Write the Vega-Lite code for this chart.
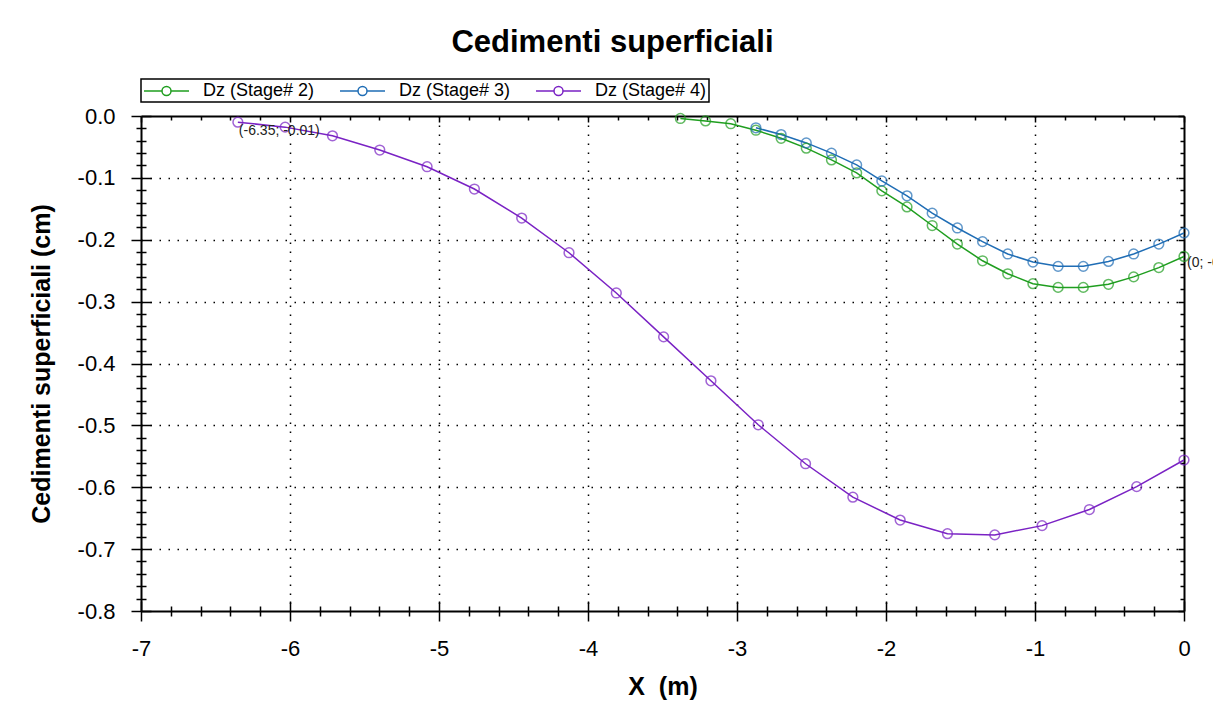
{
  "$schema": "https://vega.github.io/schema/vega-lite/v6.json",
  "width": 1043,
  "height": 495,
  "autosize": {"type": "none"},
  "padding": {"left": 141, "top": 116, "right": 29, "bottom": 107},
  "background": "white",
  "title": {"text": "Cedimenti superficiali", "font": "Liberation Sans", "fontSize": 31, "fontWeight": "bold", "color": "#000000", "anchor": "middle", "frame": "group", "dx": -50, "offset": -5, "baseline": "alphabetic"},
  "config": {
    "view": {"stroke": null},
    "legend": {"strokeWidth": 1.5},
    "axis": {"domainColor": "#000000", "domainWidth": 2, "tickColor": "#000000", "tickWidth": 1.5, "labelFont": "Liberation Sans", "labelFontSize": 22, "labelColor": "#000000", "titleFont": "Liberation Sans", "titleFontSize": 25, "titleFontWeight": "bold", "titleColor": "#000000", "gridColor": "#000000", "gridDash": [1.5, 7.5], "gridWidth": 1.5, "labelOverlap": false, "labelFlush": false}
  },
  "datasets": {
    "stages": [
      {"series": "Dz (Stage# 2)", "x": -3.38, "y": -0.004},
      {"series": "Dz (Stage# 2)", "x": -3.211, "y": -0.008},
      {"series": "Dz (Stage# 2)", "x": -3.042, "y": -0.0125},
      {"series": "Dz (Stage# 2)", "x": -2.873, "y": -0.023},
      {"series": "Dz (Stage# 2)", "x": -2.704, "y": -0.036},
      {"series": "Dz (Stage# 2)", "x": -2.535, "y": -0.052},
      {"series": "Dz (Stage# 2)", "x": -2.366, "y": -0.071},
      {"series": "Dz (Stage# 2)", "x": -2.197, "y": -0.092},
      {"series": "Dz (Stage# 2)", "x": -2.028, "y": -0.121},
      {"series": "Dz (Stage# 2)", "x": -1.859, "y": -0.147},
      {"series": "Dz (Stage# 2)", "x": -1.69, "y": -0.177},
      {"series": "Dz (Stage# 2)", "x": -1.521, "y": -0.207},
      {"series": "Dz (Stage# 2)", "x": -1.352, "y": -0.234},
      {"series": "Dz (Stage# 2)", "x": -1.183, "y": -0.255},
      {"series": "Dz (Stage# 2)", "x": -1.014, "y": -0.271},
      {"series": "Dz (Stage# 2)", "x": -0.845, "y": -0.277},
      {"series": "Dz (Stage# 2)", "x": -0.676, "y": -0.277},
      {"series": "Dz (Stage# 2)", "x": -0.507, "y": -0.272},
      {"series": "Dz (Stage# 2)", "x": -0.338, "y": -0.26},
      {"series": "Dz (Stage# 2)", "x": -0.169, "y": -0.245},
      {"series": "Dz (Stage# 2)", "x": 0, "y": -0.227},
      {"series": "Dz (Stage# 3)", "x": -2.873, "y": -0.019},
      {"series": "Dz (Stage# 3)", "x": -2.704, "y": -0.03},
      {"series": "Dz (Stage# 3)", "x": -2.535, "y": -0.0435},
      {"series": "Dz (Stage# 3)", "x": -2.366, "y": -0.06},
      {"series": "Dz (Stage# 3)", "x": -2.197, "y": -0.079},
      {"series": "Dz (Stage# 3)", "x": -2.028, "y": -0.105},
      {"series": "Dz (Stage# 3)", "x": -1.859, "y": -0.129},
      {"series": "Dz (Stage# 3)", "x": -1.69, "y": -0.157},
      {"series": "Dz (Stage# 3)", "x": -1.521, "y": -0.181},
      {"series": "Dz (Stage# 3)", "x": -1.352, "y": -0.203},
      {"series": "Dz (Stage# 3)", "x": -1.183, "y": -0.223},
      {"series": "Dz (Stage# 3)", "x": -1.014, "y": -0.236},
      {"series": "Dz (Stage# 3)", "x": -0.845, "y": -0.243},
      {"series": "Dz (Stage# 3)", "x": -0.676, "y": -0.243},
      {"series": "Dz (Stage# 3)", "x": -0.507, "y": -0.235},
      {"series": "Dz (Stage# 3)", "x": -0.338, "y": -0.223},
      {"series": "Dz (Stage# 3)", "x": -0.169, "y": -0.207},
      {"series": "Dz (Stage# 3)", "x": 0, "y": -0.189},
      {"series": "Dz (Stage# 4)", "x": -6.35, "y": -0.01},
      {"series": "Dz (Stage# 4)", "x": -6.0325, "y": -0.018},
      {"series": "Dz (Stage# 4)", "x": -5.715, "y": -0.032},
      {"series": "Dz (Stage# 4)", "x": -5.3975, "y": -0.055},
      {"series": "Dz (Stage# 4)", "x": -5.08, "y": -0.082},
      {"series": "Dz (Stage# 4)", "x": -4.7625, "y": -0.118},
      {"series": "Dz (Stage# 4)", "x": -4.445, "y": -0.165},
      {"series": "Dz (Stage# 4)", "x": -4.1275, "y": -0.221},
      {"series": "Dz (Stage# 4)", "x": -3.81, "y": -0.286},
      {"series": "Dz (Stage# 4)", "x": -3.4925, "y": -0.357},
      {"series": "Dz (Stage# 4)", "x": -3.175, "y": -0.428},
      {"series": "Dz (Stage# 4)", "x": -2.8575, "y": -0.499},
      {"series": "Dz (Stage# 4)", "x": -2.54, "y": -0.562},
      {"series": "Dz (Stage# 4)", "x": -2.2225, "y": -0.616},
      {"series": "Dz (Stage# 4)", "x": -1.905, "y": -0.653},
      {"series": "Dz (Stage# 4)", "x": -1.5875, "y": -0.675},
      {"series": "Dz (Stage# 4)", "x": -1.27, "y": -0.677},
      {"series": "Dz (Stage# 4)", "x": -0.9525, "y": -0.662},
      {"series": "Dz (Stage# 4)", "x": -0.635, "y": -0.636},
      {"series": "Dz (Stage# 4)", "x": -0.3175, "y": -0.599},
      {"series": "Dz (Stage# 4)", "x": 0, "y": -0.556}
    ],
    "labels": [
      {"x": -6.35, "y": -0.01, "label": "(-6.35; -0.01)", "pos": "first"},
      {"x": 0, "y": -0.227, "label": "(0; -0.23)", "pos": "last"}
    ]
  },
  "layer": [
    {
      "data": {"name": "stages"},
      "mark": {"type": "line", "strokeWidth": 1.5},
      "encoding": {
        "x": {"field": "x", "type": "quantitative", "scale": {"domain": [-7, 0], "nice": false, "zero": false},
          "axis": {"orient": "bottom", "title": "X\u00a0\u00a0(m)", "titlePadding": 15,
            "values": [-7,-6.8,-6.6,-6.4,-6.2,-6,-5.8,-5.6,-5.4,-5.2,-5,-4.8,-4.6,-4.4,-4.2,-4,-3.8,-3.6,-3.4,-3.2,-3,-2.8,-2.6,-2.4,-2.2,-2,-1.8,-1.6,-1.4,-1.2,-1,-0.8,-0.6,-0.4,-0.2,0],
            "labelExpr": "abs(datum.value - round(datum.value)) < 0.001 ? replace(format(datum.value, 'd'), '\u2212', '-') : ''",
            "tickSize": {"condition": {"test": "abs(datum.value - round(datum.value)) < 0.001", "value": 10}, "value": 5},
            "labelPadding": 17,
            "grid": true,
            "gridOpacity": {"condition": {"test": "abs(datum.value - round(datum.value)) < 0.001 && datum.value > -6.9 && datum.value < -0.1", "value": 1}, "value": 0}}},
        "y": {"field": "y", "type": "quantitative", "scale": {"domain": [-0.8, 0], "nice": false, "zero": false},
          "axis": {"orient": "left", "title": "Cedimenti superficiali (cm)", "titlePadding": 23,
            "values": [-0.8,-0.78,-0.76,-0.74,-0.72,-0.7,-0.68,-0.66,-0.64,-0.62,-0.6,-0.58,-0.56,-0.54,-0.52,-0.5,-0.48,-0.46,-0.44,-0.42,-0.4,-0.38,-0.36,-0.34,-0.32,-0.3,-0.28,-0.26,-0.24,-0.22,-0.2,-0.18,-0.16,-0.14,-0.12,-0.1,-0.08,-0.06,-0.04,-0.02,0],
            "labelExpr": "abs(datum.value * 10 - round(datum.value * 10)) < 0.001 ? replace(format(datum.value, '.1f'), '\u2212', '-') : ''",
            "tickSize": {"condition": {"test": "abs(datum.value * 10 - round(datum.value * 10)) < 0.001", "value": 10}, "value": 5},
            "labelPadding": 16,
            "grid": true,
            "gridOpacity": {"condition": {"test": "abs(datum.value * 10 - round(datum.value * 10)) < 0.001 && datum.value > -0.79 && datum.value < -0.01", "value": 1}, "value": 0}}},
        "color": {"field": "series", "type": "nominal",
          "scale": {"domain": ["Dz (Stage# 2)", "Dz (Stage# 3)", "Dz (Stage# 4)"], "range": ["#1f9e1f", "#1f6db5", "#7a22c4"]},
          "legend": {"orient": "none", "legendX": 0, "legendY": -37, "direction": "horizontal", "title": null,
            "strokeColor": "#000000", "fillColor": "white", "padding": 2,
            "labelFont": "Liberation Sans", "labelFontSize": 18, "labelColor": "#000000", "labelOffset": 40, "columnPadding": 22,
            "symbolType": "M-1,0L1,0M2,0L4,0M1,0A0.5,0.5 0 1,0 2,0A0.5,0.5 0 1,0 1,0",
            "symbolSize": 324, "symbolStrokeWidth": 1.5, "symbolFillColor": "transparent"}}
      }
    },
    {
      "data": {"name": "stages"},
      "mark": {"type": "point", "shape": "circle", "filled": false, "strokeWidth": 1.5, "size": 95},
      "encoding": {
        "x": {"field": "x", "type": "quantitative",
          "axis": {"orient": "bottom", "title": null, "labels": false, "domain": false, "grid": false,
            "values": [-7,-6.8,-6.6,-6.4,-6.2,-6,-5.8,-5.6,-5.4,-5.2,-5,-4.8,-4.6,-4.4,-4.2,-4,-3.8,-3.6,-3.4,-3.2,-3,-2.8,-2.6,-2.4,-2.2,-2,-1.8,-1.6,-1.4,-1.2,-1,-0.8,-0.6,-0.4,-0.2,0],
            "tickSize": {"condition": {"test": "abs(datum.value - round(datum.value)) < 0.001", "value": -10}, "value": -5}}},
        "y": {"field": "y", "type": "quantitative",
          "axis": {"orient": "left", "title": null, "labels": false, "domain": false, "grid": false,
            "values": [-0.8,-0.78,-0.76,-0.74,-0.72,-0.7,-0.68,-0.66,-0.64,-0.62,-0.6,-0.58,-0.56,-0.54,-0.52,-0.5,-0.48,-0.46,-0.44,-0.42,-0.4,-0.38,-0.36,-0.34,-0.32,-0.3,-0.28,-0.26,-0.24,-0.22,-0.2,-0.18,-0.16,-0.14,-0.12,-0.1,-0.08,-0.06,-0.04,-0.02,0],
            "tickSize": {"condition": {"test": "abs(datum.value * 10 - round(datum.value * 10)) < 0.001", "value": -10}, "value": -5}}},
        "color": {"field": "series", "type": "nominal", "legend": null}
      }
    },
    {
      "data": {"name": "labels"},
      "transform": [{"filter": "datum.pos === 'first'"}],
      "mark": {"type": "text", "align": "left", "baseline": "top", "dx": 1, "dy": 2, "font": "Liberation Sans", "fontSize": 14, "color": "#222222"},
      "encoding": {
        "x": {"field": "x", "type": "quantitative",
          "axis": {"orient": "top", "title": null, "labels": false, "domain": true, "grid": false,
            "values": [-7,-6.8,-6.6,-6.4,-6.2,-6,-5.8,-5.6,-5.4,-5.2,-5,-4.8,-4.6,-4.4,-4.2,-4,-3.8,-3.6,-3.4,-3.2,-3,-2.8,-2.6,-2.4,-2.2,-2,-1.8,-1.6,-1.4,-1.2,-1,-0.8,-0.6,-0.4,-0.2,0],
            "tickSize": {"condition": {"test": "abs(datum.value - round(datum.value)) < 0.001", "value": -6}, "value": -4}}},
        "y": {"field": "y", "type": "quantitative",
          "axis": {"orient": "right", "title": null, "labels": false, "domain": true, "grid": false,
            "values": [-0.8,-0.78,-0.76,-0.74,-0.72,-0.7,-0.68,-0.66,-0.64,-0.62,-0.6,-0.58,-0.56,-0.54,-0.52,-0.5,-0.48,-0.46,-0.44,-0.42,-0.4,-0.38,-0.36,-0.34,-0.32,-0.3,-0.28,-0.26,-0.24,-0.22,-0.2,-0.18,-0.16,-0.14,-0.12,-0.1,-0.08,-0.06,-0.04,-0.02,0],
            "tickSize": {"condition": {"test": "abs(datum.value * 10 - round(datum.value * 10)) < 0.001", "value": -6}, "value": -4}}},
        "text": {"field": "label", "type": "nominal"}
      }
    },
    {
      "data": {"name": "labels"},
      "transform": [{"filter": "datum.pos === 'last'"}],
      "mark": {"type": "text", "align": "left", "baseline": "middle", "dx": 3, "dy": 7, "font": "Liberation Sans", "fontSize": 14, "color": "#222222"},
      "encoding": {
        "x": {"field": "x", "type": "quantitative", "axis": null},
        "y": {"field": "y", "type": "quantitative", "axis": null},
        "text": {"field": "label", "type": "nominal"}
      }
    }
  ],
  "resolve": {"axis": {"x": "independent", "y": "independent"}}
}
